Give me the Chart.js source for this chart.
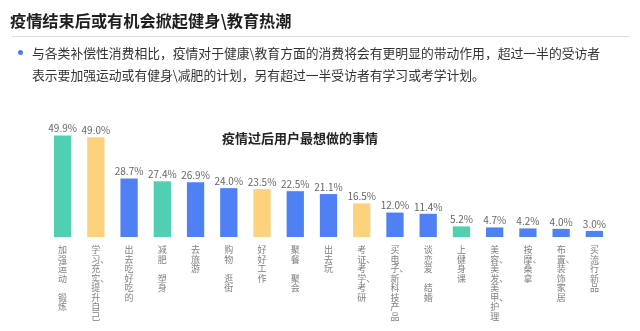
<!DOCTYPE html>
<html>
<head>
<meta charset="utf-8">
<script src="https://cdn.jsdelivr.net/npm/chart.js@4/dist/chart.umd.min.js"></script>
<style>
  html, body { margin: 0; padding: 0; background: #fff; }
  body { width: 640px; height: 331px; position: relative; overflow: hidden; font-family: "Noto Sans CJK SC", sans-serif; }
  #myChart { position: absolute; left: 0; top: 0; }
  .head { position: absolute; left: 10px; top: 8px; font-size: 16.2px; font-weight: bold; color: #1e1e1e; white-space: nowrap; }
  .rule { position: absolute; left: 12px; top: 36px; width: 618px; height: 1px; background: #dcdcdc; }
  .dot { position: absolute; left: 18px; top: 50px; width: 5px; height: 5px; border-radius: 50%; background: #4a7bf0; }
  .note { position: absolute; left: 32px; top: 42px; font-size: 12.8px; line-height: 22px; color: #333; white-space: nowrap; }
  .ctitle { position: absolute; left: 0; width: 600px; top: 128px; text-align: center; font-size: 13px; font-weight: bold; color: #222; }
</style>
</head>
<body>
<canvas id="myChart" width="640" height="331"></canvas>
<div class="head">疫情结束后或有机会掀起健身\教育热潮</div>
<div class="rule"></div>
<div class="dot"></div>
<div class="note">与各类补偿性消费相比，疫情对于健康\教育方面的消费将会有更明显的带动作用，超过一半的受访者<br>表示要加强运动或有健身\减肥的计划，另有超过一半受访者有学习或考学计划。</div>
<div class="ctitle">疫情过后用户最想做的事情</div>
<script>
var categories = ['加强运动 锻炼', '学习、充实、提升自己', '出去吃好吃的', '减肥 塑身', '去旅游', '购物 逛街',
    '好好工作', '聚餐 聚会', '出去玩', '考证、考学、考研', '买电子、新科技产品', '谈恋爱 结婚',
    '上健身课', '美容、美发、美甲、护理', '按摩、桑拿', '布置、装饰家居', '买流行新品'];
var values = [49.9, 49.0, 28.7, 27.4, 26.9, 24.0, 23.5, 22.5, 21.1, 16.5, 12.0, 11.4, 5.2, 4.7, 4.2, 4.0, 3.0];
var groups = ['g', 'y', 'b', 'g', 'b', 'b', 'y', 'b', 'b', 'y', 'b', 'b', 'g', 'b', 'b', 'b', 'b'];

var palette = { g: '#50cfb1', y: '#fdd27c', b: '#4f80f4' };

// one character per line, the 、 sits next to the character before it
function verticalLines(text) {
    var lines = [];
    Array.from(text).forEach(function (c) {
        if (c === '、' && lines.length) {
            lines[lines.length - 1] = '\u3000' + lines[lines.length - 1] + '、';
        } else {
            lines.push(c === ' ' ? ' ' : c);
        }
    });
    return lines;
}

var valueLabels = {
    id: 'valueLabels',
    afterDatasetsDraw: function (chart) {
        var ctx = chart.ctx;
        var meta = chart.getDatasetMeta(0);
        ctx.save();
        ctx.font = '10px "Noto Sans CJK SC"';
        ctx.fillStyle = '#666';
        ctx.textAlign = 'center';
        ctx.textBaseline = 'bottom';
        meta.data.forEach(function (bar, i) {
            ctx.fillText(values[i].toFixed(1) + '%', bar.x, bar.y - 2);
        });
        ctx.restore();
    }
};

document.addEventListener('DOMContentLoaded', function () {
    var ctx1 = document.getElementById('myChart').getContext('2d');

    var myChart1 = new Chart(ctx1, {
        type: 'bar',
        data: {
            labels: categories,
            datasets: [{
                data: values,
                backgroundColor: groups.map(function (g) { return palette[g]; }),
                borderWidth: 0,
                barPercentage: 0.52,
                categoryPercentage: 1
            }]
        },
        options: {
            responsive: false,
            animation: false,
            layout: {
                padding: { left: 46, right: 29, top: 125, bottom: 0 }
            },
            plugins: {
                legend: { display: false },
                tooltip: { enabled: false }
            },
            scales: {
                x: {
                    grid: { display: false, drawTicks: false },
                    border: { display: false },
                    afterFit: function (scale) { scale.height = 94; },
                    ticks: {
                        maxRotation: 0,
                        autoSkip: false,
                        padding: 8,
                        color: '#808080',
                        font: { family: '"Noto Sans CJK SC"', size: 9, lineHeight: 1.06 },
                        callback: function (v, i) { return verticalLines(categories[i]); }
                    }
                },
                y: {
                    display: false,
                    min: 0,
                    max: 55
                }
            }
        },
        plugins: [valueLabels]
    });
});
</script>
</body>
</html>
